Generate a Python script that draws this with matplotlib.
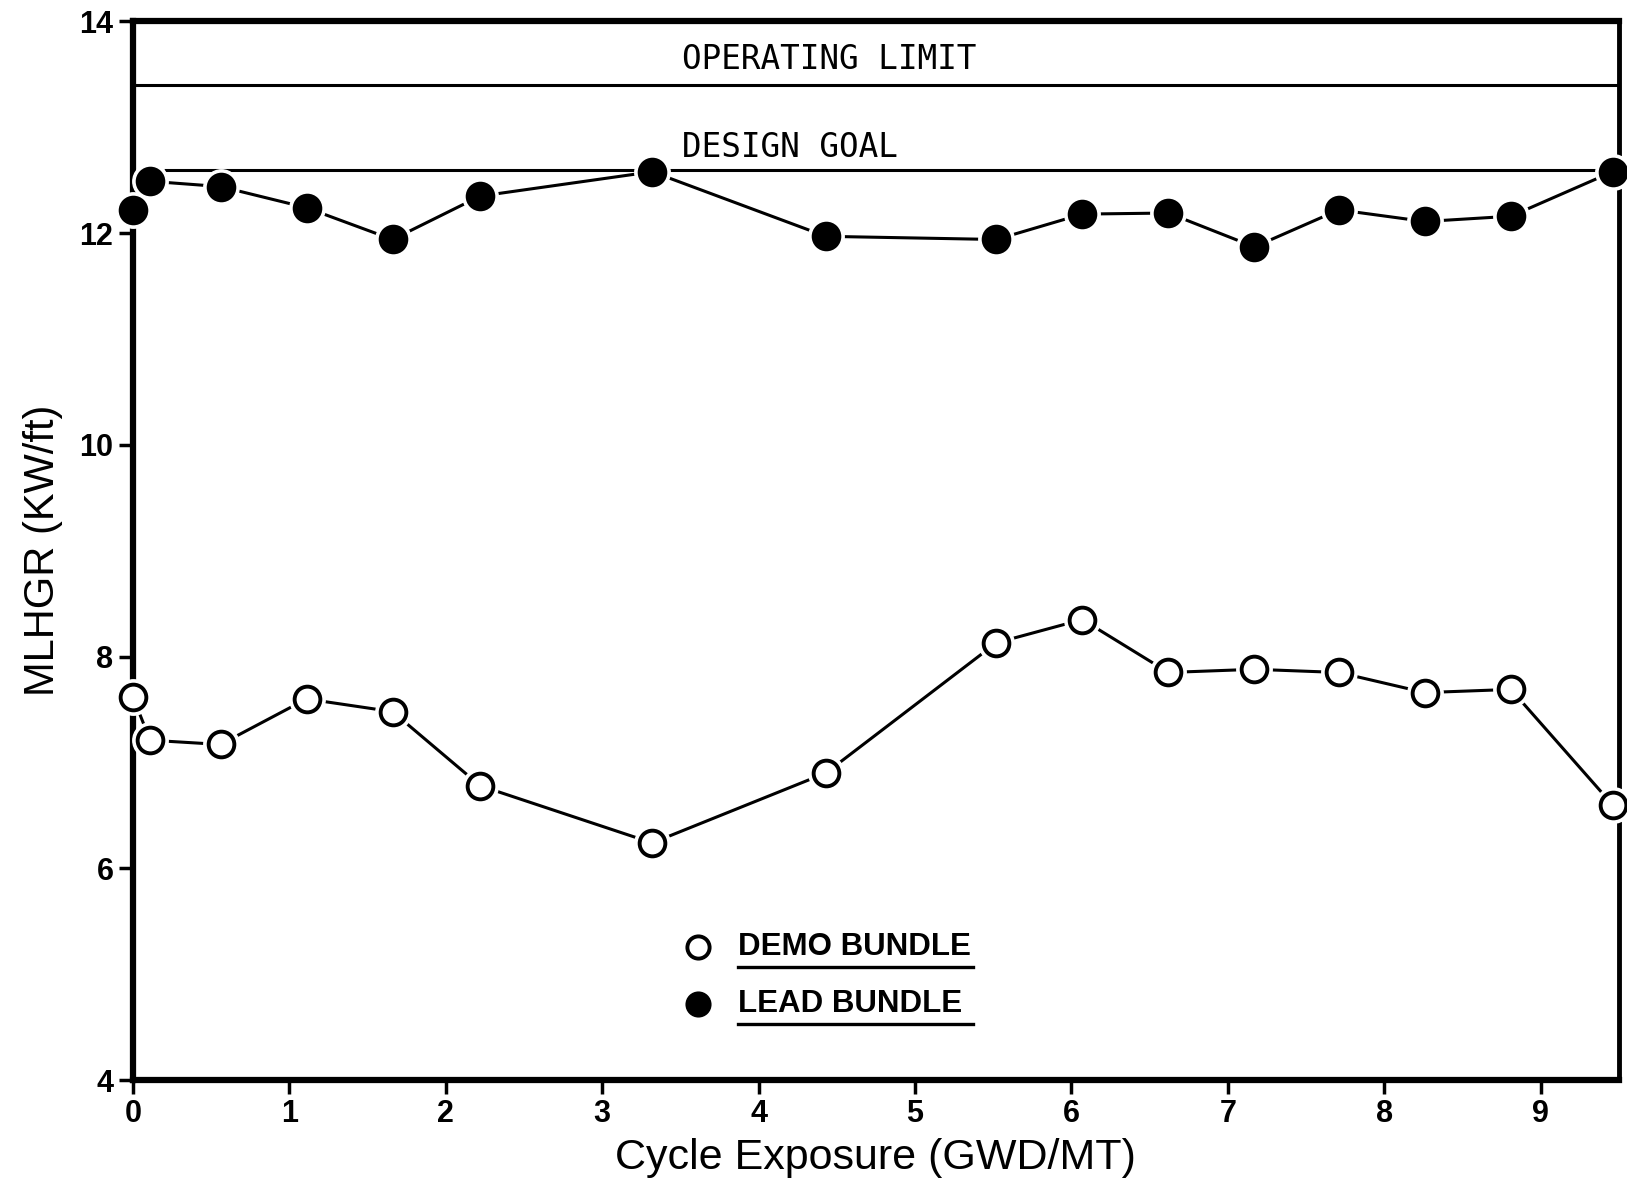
import matplotlib
matplotlib.use("Agg")
import matplotlib.pyplot as plt

# Cycle exposure (GWD/MT) at each measurement
exposure = [0.0, 0.11, 0.56, 1.11, 1.66, 2.22, 3.32, 4.43, 5.52, 6.07,
            6.62, 7.17, 7.71, 8.26, 8.81, 9.46]
# Maximum linear heat generation rate (KW/ft)
demo_bundle = [7.62, 7.21, 7.17, 7.60, 7.48, 6.78, 6.24, 6.90, 8.13, 8.35,
               7.85, 7.88, 7.85, 7.66, 7.69, 6.60]
lead_bundle = [12.22, 12.49, 12.44, 12.24, 11.94, 12.35, 12.58, 11.97, 11.94,
               12.18, 12.19, 11.87, 12.22, 12.11, 12.16, 12.58]

operating_limit = 13.4
design_goal = 12.6

x_ticks = [0, 1, 2, 3, 4, 5, 6, 7, 8, 9]
y_ticks = [4, 6, 8, 10, 12, 14]

plt.rcParams['font.family'] = ['Liberation Sans', 'DejaVu Sans']

fig = plt.figure(figsize=(16.27, 11.9), dpi=100)
ax = fig.add_axes([0.0817, 0.0924, 0.9133, 0.8896])

ax.set_xlim(0, 9.5)
ax.set_ylim(4, 14)

# reference lines
ax.plot([0.0, 9.5], [operating_limit] * 2, color='black', lw=2.2,
        solid_capstyle='butt', zorder=2)
ax.plot([0.2, 9.4], [design_goal] * 2, color='black', lw=2.2,
        solid_capstyle='butt', zorder=2)
ax.text(3.51, 13.64, 'OPERATING LIMIT', family='DejaVu Sans Mono',
        fontsize=23.5, va='center', ha='left')
ax.text(3.51, 12.81, 'DESIGN GOAL', family='DejaVu Sans Mono',
        fontsize=23.5, va='center', ha='left')

ms = 18.5
for ys, face in ((demo_bundle, 'white'), (lead_bundle, 'black')):
    ax.plot(exposure, ys, color='black', lw=2.2, zorder=3)
    # white halo leaves a small gap between the line and each marker
    ax.plot(exposure, ys, 'o', ms=ms + 7, mfc='white', mec='white',
            zorder=4, clip_on=False)
    ax.plot(exposure, ys, 'o', ms=ms, mfc=face, mec='black', mew=2.8,
            zorder=5, clip_on=False)

# legend drawn as markers and underlined text
legend_items = [('DEMO BUNDLE', 'white', 5.26), ('LEAD BUNDLE', 'black', 4.72)]
for label, face, yv in legend_items:
    ax.plot([3.61], [yv], 'o', ms=16, mfc=face, mec='black', mew=2.8, zorder=5)
    ax.text(3.87, yv, label, fontsize=22.5, fontweight='bold',
            va='center', ha='left')
    ax.plot([3.87, 5.37], [yv - 0.19] * 2, color='black', lw=2.4)

ax.set_xticks(x_ticks)
ax.set_yticks(y_ticks)
ax.tick_params(axis='both', direction='out', length=10, width=2.5,
               labelsize=22, pad=4)
for lab in ax.get_xticklabels() + ax.get_yticklabels():
    lab.set_fontweight('bold')

for side in ('left', 'bottom', 'top'):
    ax.spines[side].set_linewidth(4.5)
ax.spines['right'].set_linewidth(3.5)

ax.set_xlabel('Cycle Exposure (GWD/MT)', fontsize=31, labelpad=6)
ax.set_ylabel('MLHGR (KW/ft)', fontsize=30, labelpad=12)

fig.savefig('out.png', dpi=100)
